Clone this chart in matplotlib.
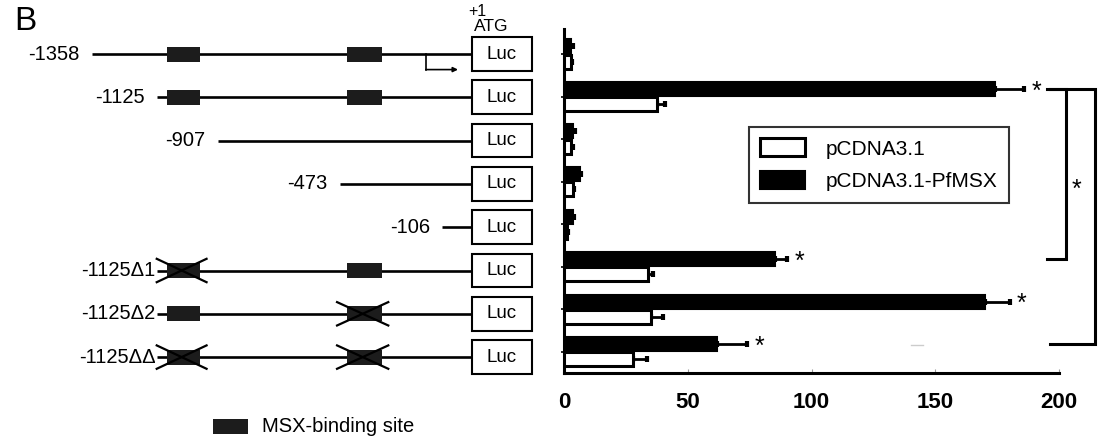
import matplotlib.pyplot as plt
from matplotlib.patches import Rectangle

plt.rcParams['font.family'] = ['Liberation Sans', 'DejaVu Sans']

# constructs (top to bottom)
CONSTRUCTS = ['-1358', '-1125', '-907', '-473', '-106', '-1125Δ1', '-1125Δ2', '-1125ΔΔ']
START_BP = [-1358, -1125, -907, -473, -106, -1125, -1125, -1125]
MSX_SITES = [(-1090, -970), (-446, -321)]
# per construct: '+' intact site, 'x' mutated site
SITE_STATE = [['+', '+'], ['+', '+'], [], [], [], ['x', '+'], ['+', 'x'], ['x', 'x']]

# luciferase activity
PFMSX = [3.0, 174, 3.8, 6.3, 3.5, 85.3, 170, 62]
PFMSX_ERR = [0.5, 12, 0.5, 0.6, 0.5, 5, 10, 12]
PCDNA = [2.8, 37.5, 3.0, 3.5, 1.2, 34, 35, 28]
PCDNA_ERR = [0.5, 3.5, 0.5, 0.6, 0.5, 2, 5, 5.5]
STARRED = [1, 5, 6, 7]
BRACKETS = [(1, 5), (1, 7)]
X_TICKS = [0, 50, 100, 150, 200]

fig = plt.figure(figsize=(11.01, 4.40), dpi=100)

# ---------- promoter diagram (x in bp, y in rows) ----------
px_per_bp = 0.28
x0_px = 472
px_per_row = 43.3
y0_px = 54
axd = fig.add_axes([0, 0, 0.5, 1])
axd.set_xlim(-x0_px / px_per_bp, (550.5 - x0_px) / px_per_bp)
axd.set_ylim((440 - y0_px) / px_per_row, -y0_px / px_per_row)
axd.axis('off')

luc_w = 60 / px_per_bp
site_h = 15 / px_per_row
for i, (lab, st) in enumerate(zip(CONSTRUCTS, START_BP)):
    axd.plot([st, 0], [i, i], color='black', lw=1.9, solid_capstyle='butt', zorder=1)
    gap = 1 if 'Δ' in lab else 9
    axd.annotate(lab, (st, i), xytext=(-gap, 0), textcoords='offset points',
                 ha='right', va='center', fontsize=14.5)
    axd.add_patch(Rectangle((0, i - 0.39), luc_w, 0.78, facecolor='white',
                            edgecolor='black', lw=1.5, zorder=3))
    axd.text(luc_w / 2, i, 'Luc', ha='center', va='center', fontsize=13.5, zorder=4)
    for (s, e), state in zip(MSX_SITES, SITE_STATE[i]):
        axd.add_patch(Rectangle((s, i - site_h / 2), e - s, site_h,
                                facecolor='#1c1c1c', edgecolor='none', zorder=2))
        if state == 'x':
            axd.plot([s - 36, e + 22], [i - 0.27, i + 0.27], color='black', lw=1.6, zorder=3)
            axd.plot([s - 36, e + 22], [i + 0.27, i - 0.27], color='black', lw=1.6, zorder=3)

# transcription start arrow
axd.plot([-164, -164], [0, 0.36], color='black', lw=1.2)
axd.annotate('', xy=(-50, 0.36), xytext=(-165, 0.36),
             arrowprops=dict(arrowstyle='-|>', color='black', lw=1.2,
                             mutation_scale=7, shrinkA=0, shrinkB=0))
y_split = (19 - y0_px) / px_per_row
axd.text(18, y_split, '+1', ha='center', va='bottom', fontsize=11.5)
axd.text(68, y_split, 'ATG', ha='center', va='top', fontsize=12.5)

# site key
axd.add_patch(Rectangle((-925, 8.6 - site_h / 2), 125, site_h, facecolor='#1c1c1c',
                        edgecolor='none'))
axd.text(-750, 8.6, 'MSX-binding site', ha='left', va='center', fontsize=14.5)

fig.text(14 / 1101, 1 - 21 / 440, 'B', ha='left', va='center', fontsize=24)

# ---------- bar chart ----------
ax = fig.add_axes([564 / 1101, 1 - 373 / 440, (1059 - 564) / 1101, (373 - 29) / 440])
rows = list(range(len(CONSTRUCTS)))
bh = 0.33
ax.barh([r - 0.18 for r in rows], PFMSX, height=bh, color='black', edgecolor='black',
        lw=1.5, label='pCDNA3.1-PfMSX', zorder=3)
ax.barh([r + 0.18 for r in rows], PCDNA, height=bh, color='white', edgecolor='black',
        lw=2.2, label='pCDNA3.1', zorder=3)
ax.errorbar(PFMSX, [r - 0.18 for r in rows], xerr=[[0] * len(rows), PFMSX_ERR], fmt='none',
            ecolor='black', elinewidth=2, capsize=2.5, capthick=3, zorder=2)
ax.errorbar(PCDNA, [r + 0.18 for r in rows], xerr=[[0] * len(rows), PCDNA_ERR], fmt='none',
            ecolor='black', elinewidth=2, capsize=2.5, capthick=3, zorder=2)

for r in STARRED:
    ax.text(PFMSX[r] + PFMSX_ERR[r] + 5, r - 0.12, '*', ha='center', va='center',
            fontsize=18)

for (a, b), (xl, xr) in zip(BRACKETS, [(195, 203), (196.5, 214.5)]):
    ax.plot([xl, xr, xr, xl], [a - 0.18, a - 0.18, b - 0.18, b - 0.18], color='black',
            lw=2.2, clip_on=False, solid_joinstyle='miter')
ax.text(207, 3.2, '*', ha='center', va='center', fontsize=18, clip_on=False)
ax.plot([140, 145], [6.85, 6.85], color='#cccccc', lw=1)

ax.set_xlim(0, 200)
ax.set_ylim(7.5, -0.59)
ax.set_xticks(X_TICKS)
ax.set_xticklabels([str(t) for t in X_TICKS], fontsize=16, fontweight='bold')
ax.tick_params(axis='x', direction='in', length=3, width=0.8, color='#999999', pad=14)
ax.set_yticks(rows)
ax.set_yticklabels([])
ax.tick_params(axis='y', direction='inout', length=4, width=1.2)
for s in ['top', 'right']:
    ax.spines[s].set_visible(False)
for s in ['left', 'bottom']:
    ax.spines[s].set_linewidth(2.2)

h, l = ax.get_legend_handles_labels()
leg = ax.legend(h[::-1], l[::-1], loc='upper left', bbox_to_anchor=(749 / 1101, 1 - 127 / 440),
                bbox_transform=fig.transFigure, fontsize=15, frameon=True, fancybox=False,
                handlelength=2.15, handleheight=0.95, borderpad=0.55, labelspacing=0.6,
                handletextpad=1.0, borderaxespad=0)
leg.get_frame().set_edgecolor('black')
leg.get_frame().set_linewidth(1.5)

fig.savefig('out.png', dpi=100)
